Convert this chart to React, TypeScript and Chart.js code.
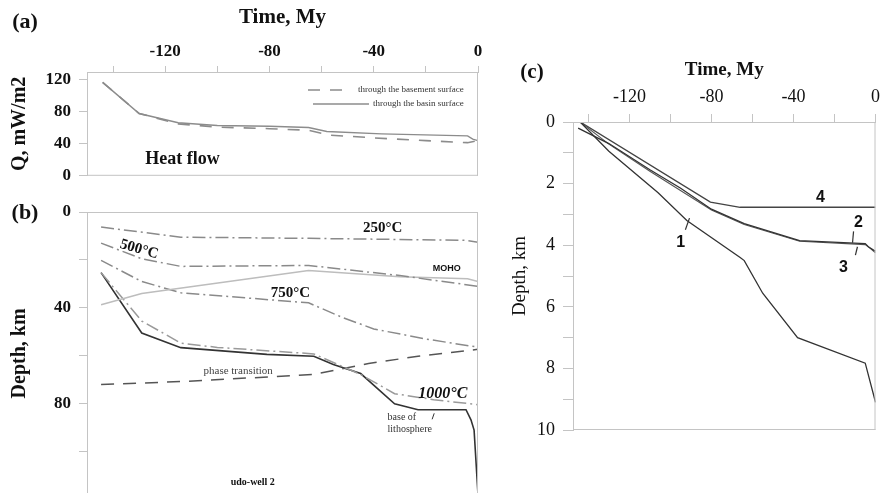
import React, { useEffect, useRef } from 'react';
import { Chart, registerables } from 'chart.js';
Chart.register(...registerables);

const SERIF = '"Liberation Serif", "Times New Roman", serif';
const SANS = '"Liberation Sans", Arial, sans-serif';

// ---------- (a) heat flow ----------
const timeTicksA = [-140, -120, -100, -80, -60, -40, -20, 0];
const heatTicks = [0, 40, 80, 120];
const basinTime = [-144, -130, -115, -100, -80, -65, -58, -37, -4, -2, 0];
const basinQ = [117, 78, 66.5, 63, 62, 60.5, 55.5, 52.5, 50, 46, 44];
const basementTime = [-144, -130, -115, -100, -80, -65, -57, -40, -20, -4, 0];
const basementQ = [117, 78, 65, 61, 59, 57, 51, 47.5, 44, 41.5, 44];

// ---------- (b) isotherms / boundaries ----------
const depthTicksB = [0, 20, 40, 60, 80, 100];
const iso250Time = [-144.6, -114, -65, -5, 0];
const iso250Depth = [6.3, 10.5, 11, 11.8, 12.6];
const iso500Time = [-144.6, -129, -114, -65, -30, 0];
const iso500Depth = [13, 19.5, 22.7, 22.3, 26.5, 31];
const mohoTime = [-144.6, -129, -65, -30, -4, 0];
const mohoDepth = [38.7, 34, 24.4, 27, 27.9, 29];
const iso750Time = [-144.6, -129, -114, -65, -52, -40, -20, 0];
const iso750Depth = [20.2, 29, 33.7, 37.9, 44, 48.8, 53, 56.4];
const iso1000Time = [-144.6, -129, -114, -100, -63, -45, -32, -17, 0];
const iso1000Depth = [25.3, 45.5, 54.7, 56.5, 59.2, 67.8, 75.8, 78.3, 80.4];
const lithoTime = [-144.6, -129, -114, -81, -63, -55.5, -45, -32, -23, -4.6, -2.7, -1.5, 0];
const lithoDepth = [25.3, 50.5, 56.6, 59.4, 60.2, 63.6, 67.4, 80, 82.5, 82.5, 86.7, 91, 118];
const phaseTime = [-144.6, -113, -63, -42, -23, 0];
const phaseDepth = [72, 70.7, 67.8, 63.2, 60.2, 57.3];

// ---------- (c) subsidence ----------
const timeTicksC = [-140, -120, -100, -80, -60, -40, -20, 0];
const depthTicksC = [0, 1, 2, 3, 4, 5, 6, 7, 8, 9, 10];
const c1Time = [-144, -130, -106, -92, -66, -64, -55, -38, -5, 0];
const c1Depth = [0, 0.95, 2.3, 3.2, 4.4, 4.5, 5.56, 7.0, 7.83, 9.1];
const c2Time = [-145, -130, -110, -95, -80, -64, -37, -5, -3.5, 0];
const c2Depth = [0.2, 0.7, 1.55, 2.15, 2.83, 3.3, 3.85, 3.95, 4.05, 4.2];
const c3Time = [-144, -130, -110, -80, -64, -37, -5, -3, 0];
const c3Depth = [0, 0.72, 1.6, 2.86, 3.33, 3.87, 3.98, 4.08, 4.25];
const c4Time = [-144, -80.5, -66, 0];
const c4Depth = [0, 2.6, 2.77, 2.77];

const pts = (xs: number[], ys: number[]) => xs.map((x, i) => ({ x, y: ys[i] }));

const AXIS = '#c4c4c4';

function txt(ctx: CanvasRenderingContext2D, s: string, x: number, y: number, font: string,
  color = '#111', align: CanvasTextAlign = 'center', rot = 0) {
  ctx.save();
  ctx.translate(x, y);
  if (rot) ctx.rotate((rot * Math.PI) / 180);
  ctx.font = font;
  ctx.fillStyle = color;
  ctx.textAlign = align;
  ctx.textBaseline = 'middle';
  ctx.fillText(s, 0, 0);
  ctx.restore();
}

function seg(ctx: CanvasRenderingContext2D, x1: number, y1: number, x2: number, y2: number,
  color = '#333', w = 1.2, dash: number[] = []) {
  ctx.save();
  ctx.strokeStyle = color;
  ctx.lineWidth = w;
  ctx.setLineDash(dash);
  ctx.beginPath();
  ctx.moveTo(x1, y1);
  ctx.lineTo(x2, y2);
  ctx.stroke();
  ctx.restore();
}

function boxPlugin(sides: { top?: boolean; right?: boolean; bottom?: boolean; left?: boolean }) {
  return {
    id: 'box',
    afterDraw(chart: any) {
      const { ctx, chartArea: a } = chart;
      ctx.save();
      ctx.strokeStyle = AXIS;
      ctx.lineWidth = 1;
      ctx.beginPath();
      if (sides.top) { ctx.moveTo(a.left, a.top + 0.5); ctx.lineTo(a.right, a.top + 0.5); }
      if (sides.right) { ctx.moveTo(a.right - 0.5, a.top); ctx.lineTo(a.right - 0.5, a.bottom); }
      if (sides.bottom) { ctx.moveTo(a.left, a.bottom - 0.5); ctx.lineTo(a.right, a.bottom - 0.5); }
      if (sides.left) { ctx.moveTo(a.left + 0.5, a.top); ctx.lineTo(a.left + 0.5, a.bottom); }
      ctx.stroke();
      ctx.restore();
    },
  };
}

function ds(label: string, data: any[], color: string, width: number, dash: number[] = []) {
  return {
    label, data, borderColor: color, backgroundColor: color, borderWidth: width,
    borderDash: dash, pointRadius: 0, tension: 0, fill: false,
  };
}

const DASHDOT = [13, 4, 2, 4];

function makeA(canvas: HTMLCanvasElement) {
  return new Chart(canvas, {
    type: 'line',
    data: {
      datasets: [
        ds('through the basement surface', pts(basementTime, basementQ), '#8c8c8c', 1.6, [12, 10]),
        ds('through the basin surface', pts(basinTime, basinQ), '#8c8c8c', 1.4),
      ],
    },
    options: {
      animation: false, responsive: false,
      layout: { padding: { left: 0, top: 0, right: 12, bottom: 2 } },
      plugins: { legend: { display: false }, tooltip: { enabled: false } },
      scales: {
        x: {
          type: 'linear', position: 'top', min: -150, max: 0,
          afterBuildTicks: (s: any) => { s.ticks = timeTicksA.map((value) => ({ value })); },
          afterFit: (s: any) => { s.height = 72; },
          ticks: {
            autoSkip: false, maxRotation: 0, padding: 4, color: '#111',
            font: { family: SERIF, size: 17, weight: 'bold' },
            callback: (v: any) => (Number(v) % 40 === 0 ? String(v) : ''),
          },
          grid: { drawOnChartArea: false, drawTicks: true, tickLength: 6, color: AXIS },
          border: { display: true, color: AXIS },
          title: { display: true, text: 'Time, My', color: '#111', padding: { top: 5, bottom: 0 },
            font: { family: SERIF, size: 21, weight: 'bold' } },
        },
        y: {
          type: 'linear', min: 0, max: 130,
          afterBuildTicks: (s: any) => { s.ticks = heatTicks.map((value) => ({ value })); },
          afterFit: (s: any) => { s.width = 87; },
          ticks: { padding: 8, color: '#111', font: { family: SERIF, size: 17, weight: 'bold' } },
          grid: { drawOnChartArea: false, drawTicks: true, tickLength: 8, color: AXIS },
          border: { display: true, color: AXIS },
          title: { display: true, text: 'Q, mW/m2', color: '#111', padding: { top: 8, bottom: 0 },
            font: { family: SERIF, size: 20, weight: 'bold' } },
        },
      },
    },
    plugins: [
      boxPlugin({ top: true, right: true, bottom: true, left: true }),
      {
        id: 'annA',
        afterDraw(chart: any) {
          const { ctx } = chart;
          const X = (v: number) => chart.scales.x.getPixelForValue(v);
          const Y = (v: number) => chart.scales.y.getPixelForValue(v);
          txt(ctx, '(a)', 25, 22, `bold 22px ${SERIF}`);
          txt(ctx, 'Heat flow', X(-113.4), Y(20.4), `bold 18px ${SERIF}`);
          // legend
          seg(ctx, 308, 90, 346, 90, '#8c8c8c', 1.6, [12, 10]);
          txt(ctx, 'through the basement surface', 358, 90, `9px ${SERIF}`, '#333', 'left');
          seg(ctx, 313, 104, 369, 104, '#8c8c8c', 1.4);
          txt(ctx, 'through the basin surface', 373, 104, `9px ${SERIF}`, '#333', 'left');
        },
      },
    ],
  } as any);
}

function makeB(canvas: HTMLCanvasElement) {
  return new Chart(canvas, {
    type: 'line',
    data: {
      datasets: [
        ds('250°C', pts(iso250Time, iso250Depth), '#8a8a8a', 1.5, DASHDOT),
        ds('500°C', pts(iso500Time, iso500Depth), '#8a8a8a', 1.5, DASHDOT),
        ds('MOHO', pts(mohoTime, mohoDepth), '#bdbdbd', 1.5),
        ds('750°C', pts(iso750Time, iso750Depth), '#8a8a8a', 1.5, DASHDOT),
        ds('1000°C', pts(iso1000Time, iso1000Depth), '#9a9a9a', 1.5, DASHDOT),
        ds('phase transition', pts(phaseTime, phaseDepth), '#555', 1.5, [13, 9]),
        ds('base of lithosphere', pts(lithoTime, lithoDepth), '#333', 1.6),
      ],
    },
    options: {
      animation: false, responsive: false,
      layout: { padding: { left: 0, top: 27, right: 12, bottom: 0 } },
      plugins: { legend: { display: false }, tooltip: { enabled: false } },
      scales: {
        x: { type: 'linear', display: false, min: -150, max: 0 },
        y: {
          type: 'linear', min: 0, max: 118, reverse: true,
          afterBuildTicks: (s: any) => { s.ticks = depthTicksB.map((value) => ({ value })); },
          afterFit: (s: any) => { s.width = 87; },
          ticks: {
            autoSkip: false, padding: 8, color: '#111', font: { family: SERIF, size: 17, weight: 'bold' },
            callback: (v: any) => (Number(v) % 40 === 0 ? String(v) : ''),
          },
          grid: { drawOnChartArea: false, drawTicks: true, tickLength: 8, color: AXIS },
          border: { display: true, color: AXIS },
          title: { display: true, text: 'Depth, km', color: '#111', padding: { top: 8, bottom: 0 },
            font: { family: SERIF, size: 20, weight: 'bold' } },
        },
      },
    },
    plugins: [
      boxPlugin({ top: true, right: true, left: true }),
      {
        id: 'annB',
        afterDraw(chart: any) {
          const { ctx } = chart;
          const X = (v: number) => chart.scales.x.getPixelForValue(v);
          const Y = (v: number) => chart.scales.y.getPixelForValue(v);
          txt(ctx, '(b)', 25, 28, `bold 22px ${SERIF}`);
          txt(ctx, '250°C', X(-36.6), Y(6.7), `bold 15px ${SERIF}`);
          txt(ctx, '500°C', X(-130), Y(15.6), `bold 15px ${SERIF}`, '#111', 'center', 16);
          txt(ctx, 'MOHO', X(-12), Y(23.6), `bold 9px ${SANS}`);
          txt(ctx, '750°C', X(-72), Y(33.7), `bold 15px ${SERIF}`);
          txt(ctx, 'phase transition', X(-92), Y(66.5), `11px ${SERIF}`, '#444');
          txt(ctx, '1000°C', X(-13.5), Y(75.8), `italic bold 16px ${SERIF}`);
          txt(ctx, 'base of', X(-34.7), Y(85.5), `10px ${SERIF}`, '#333', 'left');
          txt(ctx, 'lithosphere', X(-34.7), Y(90.5), `10px ${SERIF}`, '#333', 'left');
          seg(ctx, X(-16.8), Y(84), X(-17.6), Y(86.5), '#333', 1);
          txt(ctx, 'udo-well 2', X(-86.4), Y(113), `bold 10px ${SERIF}`);
        },
      },
    ],
  } as any);
}

function makeC(canvas: HTMLCanvasElement) {
  return new Chart(canvas, {
    type: 'line',
    data: {
      datasets: [
        ds('1', pts(c1Time, c1Depth), '#333', 1.3),
        ds('2', pts(c2Time, c2Depth), '#333', 1.3),
        ds('3', pts(c3Time, c3Depth), '#555', 1.1),
        ds('4', pts(c4Time, c4Depth), '#444', 1.4),
      ],
    },
    options: {
      animation: false, responsive: false,
      layout: { padding: { left: 0, top: 0, right: 1, bottom: 63 } },
      plugins: { legend: { display: false }, tooltip: { enabled: false } },
      scales: {
        x: {
          type: 'linear', position: 'top', min: -147.5, max: 0,
          afterBuildTicks: (s: any) => { s.ticks = timeTicksC.map((value) => ({ value })); },
          afterFit: (s: any) => { s.height = 92; },
          ticks: {
            autoSkip: false, maxRotation: 0, padding: 6, color: '#111',
            font: { family: SERIF, size: 18 },
            callback: (v: any) => (Number(v) % 40 === 0 ? String(v) : ''),
          },
          grid: { drawOnChartArea: false, drawTicks: true, tickLength: 8, color: AXIS },
          border: { display: true, color: AXIS },
          title: { display: true, text: 'Time, My', color: '#111', padding: { top: 29, bottom: 0 },
            font: { family: SERIF, size: 19, weight: 'bold' } },
        },
        y: {
          type: 'linear', min: 0, max: 10, reverse: true,
          afterBuildTicks: (s: any) => { s.ticks = depthTicksC.map((value) => ({ value })); },
          afterFit: (s: any) => { s.width = 83; },
          ticks: {
            autoSkip: false, padding: 8, color: '#111', font: { family: SERIF, size: 18 },
            callback: (v: any) => (Number(v) % 2 === 0 ? String(v) : ''),
          },
          grid: { drawOnChartArea: false, drawTicks: true, tickLength: 10, color: AXIS },
          border: { display: true, color: AXIS },
          title: { display: true, text: 'Depth, km', color: '#111', padding: { top: 19, bottom: 0 },
            font: { family: SERIF, size: 19 } },
        },
      },
    },
    plugins: [
      boxPlugin({ top: true, right: true, bottom: true, left: true }),
      {
        id: 'annC',
        afterDraw(chart: any) {
          const { ctx } = chart;
          const X = (v: number) => chart.scales.x.getPixelForValue(v);
          const Y = (v: number) => chart.scales.y.getPixelForValue(v);
          txt(ctx, '(c)', 42, 43, `bold 21px ${SERIF}`);
          const f = `bold 16px ${SANS}`;
          txt(ctx, '4', X(-26.8), Y(2.47), f);
          txt(ctx, '2', X(-8.3), Y(3.25), f);
          txt(ctx, '1', X(-95), Y(3.9), f);
          txt(ctx, '3', X(-15.6), Y(4.74), f);
          seg(ctx, X(-92.7), Y(3.5), X(-90.7), Y(3.12), '#333', 1.2);
          seg(ctx, X(-10.7), Y(3.55), X(-11.2), Y(3.92), '#333', 1.2);
          seg(ctx, X(-8.8), Y(4.05), X(-9.8), Y(4.32), '#333', 1.2);
        },
      },
    ],
  } as any);
}

export default function App() {
  const refA = useRef<HTMLCanvasElement>(null);
  const refB = useRef<HTMLCanvasElement>(null);
  const refC = useRef<HTMLCanvasElement>(null);

  useEffect(() => {
    const charts = [makeA(refA.current!), makeB(refB.current!), makeC(refC.current!)];
    return () => charts.forEach((c) => c.destroy());
  }, []);

  return (
    <div style={{ position: 'absolute', left: 0, top: 0, width: 881, height: 493, background: '#fff', overflow: 'hidden' }}>
      <canvas ref={refA} width={490} height={194} style={{ position: 'absolute', left: 0, top: 0 }} />
      <canvas ref={refB} width={490} height={328} style={{ position: 'absolute', left: 0, top: 185 }} />
      <canvas ref={refC} width={396} height={463} style={{ position: 'absolute', left: 490, top: 30 }} />
    </div>
  );
}
